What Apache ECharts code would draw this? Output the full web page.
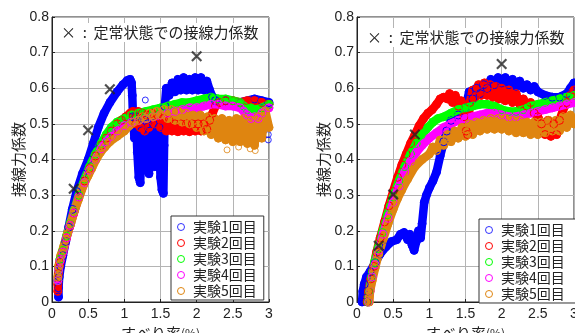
<!DOCTYPE html>
<html>
<head>
<meta charset="utf-8">
<script src="https://cdn.jsdelivr.net/npm/echarts@6/dist/echarts.min.js"></script>
<style>
html, body { margin: 0; padding: 0; background: #fff; }
#chart { width: 575px; height: 333px; }
</style>
</head>
<body>
<div id="chart"></div>
<script>
// 実験名と色
let runNames = ['実験1回目', '実験2回目', '実験3回目', '実験4回目', '実験5回目'];
let runColors = ['#0000ff', '#ff0000', '#00ff00', '#ff00ff', '#df8510'];
let noteText = '×  :  定常状態での接線力係数';

// 左図 [すべり率(%), 接線力係数]
let leftRun1 = [[0.09,0.014],[0.09,0.04],[0.1,0.07],[0.12,0.1],[0.15,0.13],[0.19,0.17],[0.23,0.21],[0.28,0.26],[0.34,0.31],[0.42,0.36],[0.5,0.4],[0.57,0.445],[0.64,0.49],[0.72,0.53],[0.8,0.56],[0.9,0.59],[0.98,0.61],[1.04,0.622],[1.08,0.625],[1.1,0.615],[1.11,0.58],[1.12,0.52],[1.14,0.46],[1.16,0.52],[1.18,0.42],[1.2,0.35],[1.22,0.335],[1.24,0.48],[1.26,0.41],[1.28,0.51],[1.3,0.38],[1.32,0.5],[1.34,0.36],[1.36,0.48],[1.38,0.4],[1.4,0.5],[1.42,0.38],[1.44,0.47],[1.46,0.4],[1.48,0.49],[1.5,0.35],[1.52,0.315],[1.54,0.305],[1.55,0.44],[1.56,0.55],[1.58,0.6],[1.62,0.58],[1.66,0.615],[1.7,0.59],[1.74,0.625],[1.78,0.595],[1.82,0.63],[1.86,0.595],[1.9,0.625],[1.94,0.595],[1.98,0.63],[2.02,0.595],[2.06,0.63],[2.1,0.595],[2.14,0.62],[2.18,0.595],[2.22,0.575],[2.26,0.565],[2.4,0.565],[2.6,0.56],[2.8,0.57],[2.9,0.565],[3.0,0.56]];
let leftRun2 = [[0.08,0.03],[0.08,0.05],[0.09,0.08],[0.11,0.11],[0.15,0.14],[0.2,0.18],[0.25,0.215],[0.3,0.25],[0.37,0.295],[0.45,0.34],[0.52,0.375],[0.6,0.41],[0.68,0.44],[0.75,0.46],[0.82,0.48],[0.9,0.5],[0.96,0.51],[1.02,0.52],[1.08,0.53],[1.12,0.535],[1.16,0.5],[1.19,0.535],[1.22,0.49],[1.25,0.53],[1.28,0.48],[1.31,0.525],[1.34,0.49],[1.38,0.53],[1.42,0.5],[1.46,0.525],[1.5,0.49],[1.54,0.515],[1.58,0.48],[1.62,0.51],[1.66,0.48],[1.7,0.5],[1.74,0.478],[1.78,0.5],[1.82,0.48],[1.86,0.5],[1.9,0.478],[1.94,0.5],[1.98,0.48],[2.02,0.5],[2.06,0.48],[2.1,0.5],[2.14,0.485],[2.18,0.51],[2.22,0.53],[2.26,0.55],[2.32,0.56],[2.4,0.565],[2.5,0.565],[2.6,0.56],[2.7,0.565],[2.8,0.565],[2.9,0.56],[3.0,0.555]];
let leftRun3 = [[0.08,0.06],[0.09,0.09],[0.11,0.12],[0.15,0.145],[0.2,0.185],[0.25,0.22],[0.3,0.255],[0.37,0.3],[0.45,0.345],[0.52,0.38],[0.6,0.415],[0.68,0.445],[0.75,0.47],[0.82,0.49],[0.9,0.505],[1.0,0.515],[1.1,0.525],[1.2,0.53],[1.3,0.535],[1.4,0.54],[1.5,0.545],[1.6,0.55],[1.7,0.555],[1.8,0.56],[1.9,0.56],[2.0,0.565],[2.1,0.57],[2.2,0.575],[2.3,0.57],[2.4,0.57],[2.5,0.565],[2.6,0.56],[2.65,0.55],[2.7,0.54],[2.75,0.545],[2.8,0.54],[2.9,0.545],[3.0,0.555]];
let leftRun4 = [[0.08,0.06],[0.09,0.09],[0.11,0.115],[0.15,0.14],[0.2,0.18],[0.25,0.215],[0.3,0.25],[0.37,0.295],[0.45,0.335],[0.52,0.37],[0.6,0.4],[0.68,0.43],[0.75,0.45],[0.82,0.465],[0.9,0.48],[1.0,0.495],[1.1,0.505],[1.2,0.51],[1.3,0.515],[1.4,0.52],[1.5,0.525],[1.6,0.53],[1.7,0.535],[1.8,0.54],[1.9,0.545],[2.0,0.545],[2.1,0.55],[2.2,0.555],[2.3,0.555],[2.4,0.55],[2.5,0.55],[2.6,0.545],[2.65,0.535],[2.7,0.525],[2.75,0.515],[2.8,0.52],[2.85,0.515],[2.9,0.53],[3.0,0.545]];
let leftRun5 = [[0.08,0.07],[0.09,0.1],[0.12,0.13],[0.16,0.155],[0.21,0.19],[0.26,0.22],[0.31,0.255],[0.37,0.29],[0.44,0.33],[0.5,0.355],[0.55,0.375],[0.61,0.4],[0.67,0.42],[0.73,0.435],[0.8,0.45],[0.9,0.465],[1.0,0.48],[1.07,0.495],[1.13,0.505],[1.2,0.51],[1.25,0.52],[1.3,0.515],[1.35,0.53],[1.4,0.52],[1.45,0.535],[1.5,0.525],[1.55,0.54],[1.6,0.515],[1.65,0.54],[1.7,0.51],[1.75,0.535],[1.8,0.505],[1.85,0.53],[1.9,0.5],[1.95,0.525],[2.0,0.49],[2.05,0.525],[2.1,0.48],[2.15,0.52],[2.2,0.47],[2.25,0.515],[2.3,0.46],[2.35,0.515],[2.4,0.455],[2.45,0.51],[2.5,0.45],[2.55,0.515],[2.6,0.45],[2.65,0.515],[2.7,0.445],[2.75,0.51],[2.8,0.44],[2.85,0.52],[2.9,0.46],[2.95,0.535],[3.0,0.49]];
let leftStray1 = [[1.29,0.567],[2.99,0.47],[2.99,0.455]];
let leftStray5 = [[2.42,0.427],[2.58,0.435],[2.74,0.43],[2.81,0.425]];
let leftSteady = [[0.3,0.318],[0.5,0.482],[0.8,0.597],[2.0,0.69]];

// 右図 [すべり率(%), 接線力係数]
let rightRun1 = [[0.07,0.0],[0.08,0.03],[0.1,0.05],[0.13,0.07],[0.18,0.085],[0.25,0.11],[0.32,0.135],[0.4,0.155],[0.48,0.17],[0.55,0.175],[0.6,0.19],[0.65,0.195],[0.7,0.175],[0.73,0.19],[0.76,0.16],[0.79,0.145],[0.82,0.17],[0.85,0.2],[0.88,0.18],[0.9,0.22],[0.93,0.28],[0.96,0.3],[1.0,0.32],[1.05,0.34],[1.1,0.365],[1.15,0.41],[1.2,0.45],[1.24,0.48],[1.3,0.51],[1.4,0.525],[1.5,0.545],[1.55,0.59],[1.6,0.57],[1.65,0.6],[1.7,0.585],[1.75,0.61],[1.8,0.6],[1.85,0.625],[1.9,0.61],[1.95,0.63],[2.0,0.615],[2.05,0.63],[2.1,0.61],[2.15,0.625],[2.2,0.605],[2.25,0.62],[2.3,0.6],[2.35,0.61],[2.4,0.595],[2.45,0.605],[2.5,0.59],[2.6,0.58],[2.7,0.575],[2.8,0.575],[2.9,0.585],[2.95,0.6],[3.0,0.615]];
let rightRun2 = [[0.14,0.0],[0.16,0.03],[0.19,0.065],[0.23,0.1],[0.27,0.14],[0.32,0.18],[0.38,0.225],[0.44,0.27],[0.5,0.31],[0.56,0.35],[0.62,0.385],[0.68,0.415],[0.74,0.445],[0.8,0.47],[0.86,0.495],[0.92,0.515],[0.98,0.53],[1.04,0.54],[1.1,0.555],[1.15,0.57],[1.2,0.575],[1.25,0.57],[1.28,0.585],[1.32,0.56],[1.36,0.58],[1.4,0.55],[1.44,0.565],[1.48,0.52],[1.51,0.48],[1.53,0.47],[1.56,0.56],[1.6,0.595],[1.64,0.575],[1.68,0.61],[1.72,0.58],[1.76,0.615],[1.8,0.58],[1.84,0.61],[1.88,0.575],[1.92,0.605],[1.96,0.57],[2.0,0.6],[2.05,0.565],[2.1,0.595],[2.15,0.56],[2.2,0.585],[2.25,0.555],[2.3,0.57],[2.35,0.55],[2.4,0.56],[2.45,0.53],[2.5,0.52],[2.55,0.5],[2.6,0.47],[2.64,0.51],[2.68,0.465],[2.72,0.5],[2.76,0.47],[2.8,0.51],[2.85,0.54],[2.9,0.56],[2.95,0.58],[3.0,0.595]];
let rightRun3 = [[0.15,0.0],[0.17,0.03],[0.2,0.07],[0.24,0.11],[0.29,0.15],[0.35,0.195],[0.42,0.245],[0.5,0.295],[0.58,0.34],[0.66,0.38],[0.74,0.415],[0.82,0.445],[0.9,0.47],[0.98,0.49],[1.05,0.505],[1.12,0.515],[1.2,0.52],[1.3,0.53],[1.4,0.54],[1.5,0.545],[1.6,0.55],[1.7,0.555],[1.8,0.555],[1.9,0.55],[2.0,0.54],[2.1,0.535],[2.2,0.535],[2.3,0.54],[2.4,0.55],[2.5,0.555],[2.6,0.56],[2.7,0.565],[2.8,0.57],[2.9,0.575],[3.0,0.58]];
let rightRun4 = [[0.16,0.0],[0.18,0.03],[0.21,0.07],[0.25,0.105],[0.3,0.145],[0.36,0.19],[0.43,0.235],[0.5,0.28],[0.58,0.325],[0.66,0.365],[0.74,0.395],[0.82,0.42],[0.9,0.44],[1.0,0.46],[1.1,0.475],[1.2,0.49],[1.3,0.5],[1.4,0.51],[1.5,0.515],[1.6,0.52],[1.7,0.525],[1.8,0.53],[1.9,0.53],[2.0,0.525],[2.1,0.52],[2.2,0.52],[2.3,0.525],[2.4,0.53],[2.5,0.535],[2.6,0.54],[2.7,0.545],[2.8,0.55],[2.9,0.555],[3.0,0.56]];
let rightRun5 = [[0.17,0.0],[0.18,0.03],[0.21,0.06],[0.25,0.095],[0.3,0.135],[0.36,0.175],[0.43,0.22],[0.5,0.26],[0.56,0.29],[0.62,0.315],[0.7,0.345],[0.8,0.38],[0.9,0.4],[1.0,0.415],[1.05,0.435],[1.1,0.425],[1.15,0.455],[1.2,0.44],[1.25,0.47],[1.3,0.45],[1.35,0.48],[1.4,0.46],[1.45,0.49],[1.5,0.465],[1.55,0.5],[1.6,0.47],[1.65,0.505],[1.7,0.48],[1.75,0.51],[1.8,0.485],[1.85,0.515],[1.9,0.485],[1.95,0.515],[2.0,0.485],[2.05,0.515],[2.1,0.48],[2.15,0.51],[2.2,0.475],[2.25,0.51],[2.3,0.475],[2.35,0.505],[2.4,0.47],[2.45,0.505],[2.5,0.47],[2.55,0.505],[2.6,0.475],[2.65,0.51],[2.7,0.48],[2.75,0.51],[2.8,0.48],[2.85,0.52],[2.9,0.49],[2.95,0.525],[3.0,0.5]];
let rightSteady = [[0.3,0.158],[0.5,0.302],[0.8,0.47],[2.0,0.668]];

let leftRuns = [leftRun1, leftRun2, leftRun3, leftRun4, leftRun5];
let rightRuns = [rightRun1, rightRun2, rightRun3, rightRun4, rightRun5];

let font = 'Liberation Sans, Noto Sans CJK JP, sans-serif';
let jpFont = 'Noto Sans CJK JP, sans-serif';
let crossPath = 'path://M0,0.14L0.14,0L1,0.86L0.86,1Z M0.86,0L1,0.14L0.14,1L0,0.86Z';

function runLine(data, i, g) {
    return {
        name: runNames[i],
        type: 'line',
        xAxisIndex: g,
        yAxisIndex: g,
        data: data,
        symbol: 'circle',
        symbolSize: 8,
        lineStyle: { color: runColors[i], width: 8.5, cap: 'round', join: 'round' },
        itemStyle: { color: 'rgba(255,255,255,0)', borderColor: runColors[i], borderWidth: 1 },
        emphasis: { disabled: true },
        silent: true
    };
}

function strays(data, i, g) {
    return {
        name: runNames[i],
        type: 'scatter',
        xAxisIndex: g,
        yAxisIndex: g,
        data: data,
        symbol: 'circle',
        symbolSize: 6,
        itemStyle: { color: 'rgba(255,255,255,0)', borderColor: runColors[i], borderWidth: 1 },
        silent: true
    };
}

function steady(data, g) {
    return {
        type: 'scatter',
        xAxisIndex: g,
        yAxisIndex: g,
        data: data,
        symbol: crossPath,
        symbolSize: 11,
        itemStyle: { color: '#222' },
        z: 10,
        silent: true
    };
}

let series = [];
series.push(strays(leftStray1, 0, 0));
leftRuns.forEach(function (d, i) { series.push(runLine(d, i, 0)); });
series.push(strays(leftStray5, 4, 0));
series.push(steady(leftSteady, 0));
rightRuns.forEach(function (d, i) { series.push(runLine(d, i, 1)); });
series.push(steady(rightSteady, 1));

function xAx(g) {
    return {
        type: 'value', gridIndex: g, min: 0, max: 3, interval: 0.5,
        name: '{a|すべり率}{b|(%)}',
        nameLocation: 'middle', nameGap: 23,
        nameTextStyle: {
            rich: {
                a: { fontSize: 15, fontFamily: jpFont, color: '#222' },
                b: { fontSize: 12, fontFamily: jpFont, color: '#222' }
            }
        },
        axisLine: { lineStyle: { color: '#222', width: 1 } },
        axisTick: { inside: true, length: 3, lineStyle: { color: '#222' } },
        axisLabel: { fontSize: 14, color: '#222', margin: 5, fontFamily: font },
        splitLine: { lineStyle: { color: '#b4b4b4', width: 1 } }
    };
}

function yAx(g) {
    return {
        type: 'value', gridIndex: g, min: 0, max: 0.8, interval: 0.1,
        name: '接線力係数',
        nameLocation: 'middle', nameGap: 25, nameRotate: 90,
        nameTextStyle: { fontSize: 15, fontFamily: jpFont, color: '#222' },
        axisLine: { lineStyle: { color: '#222', width: 1 } },
        axisTick: { inside: true, length: 3, lineStyle: { color: '#222' } },
        axisLabel: {
            fontSize: 14, color: '#222', margin: 3, fontFamily: font,
            formatter: function (v) { return v === 0 ? '0' : v.toFixed(1); }
        },
        splitLine: { lineStyle: { color: '#b4b4b4', width: 1 } }
    };
}

function legendBox(left, top, padRight) {
    return {
        left: left, top: top,
        orient: 'vertical',
        backgroundColor: '#fff',
        borderColor: '#333', borderWidth: 1,
        padding: [4, padRight, 2, 6],
        itemGap: 2,
        itemWidth: 14, itemHeight: 7,
        icon: 'circle',
        selectedMode: false,
        textStyle: { fontSize: 14, color: '#222', fontFamily: jpFont },
        data: runNames.map(function (n, i) {
            return {
                name: n, icon: 'circle',
                itemStyle: { color: 'rgba(255,255,255,0)', borderColor: runColors[i], borderWidth: 1 }
            };
        })
    };
}

function note(left, top) {
    return {
        text: noteText, left: left, top: top,
        padding: [2, 4],
        backgroundColor: '#fff',
        textStyle: { fontSize: 15, fontWeight: 'normal', color: '#222', fontFamily: jpFont }
    };
}

let myChart = echarts.init(document.getElementById('chart'));
let option = {
    animation: false,
    textStyle: { fontFamily: font },
    title: [note(57, 23), note(363, 28)],
    legend: [legendBox(171, 216, 7), legendBox(479, 219, 20)],
    grid: [
        { left: 52, top: 17, width: 217, height: 285, outerBoundsMode: 'none', show: true, borderColor: '#222', borderWidth: 1, backgroundColor: '#fff' },
        { left: 357, top: 17, width: 217, height: 285, outerBoundsMode: 'none', show: true, borderColor: '#222', borderWidth: 1, backgroundColor: '#fff' }
    ],
    xAxis: [xAx(0), xAx(1)],
    yAxis: [yAx(0), yAx(1)],
    series: series
};
myChart.setOption(option);
</script>
</body>
</html>
